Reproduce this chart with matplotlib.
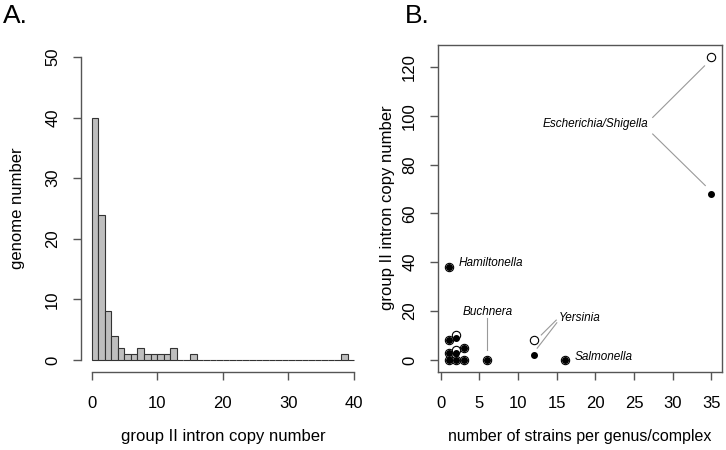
import numpy as np
import matplotlib.pyplot as plt

plt.rcParams['font.family'] = ['Liberation Sans', 'DejaVu Sans']

# panel A: histogram, bins of width 1 starting at 0
bin_left = list(range(40))
genome_counts = [40, 24, 8, 4, 2, 1, 1, 2, 1, 1,
                 1, 1, 2, 0, 0, 1, 0, 0, 0, 0,
                 0, 0, 0, 0, 0, 0, 0, 0, 0, 0,
                 0, 0, 0, 0, 0, 0, 0, 0, 1, 0]

# panel B: copy number range per genus
strains = [1, 1, 1, 1, 2, 2, 2, 3, 3, 6, 12, 16, 35]
copy_max = [0, 3, 8, 38, 0, 4, 10, 0, 5, 0, 8, 0, 124]
copy_min = [0, 3, 8, 38, 0, 3, 9, 0, 5, 0, 2, 0, 68]

W, H = 726, 450
fig = plt.figure(figsize=(W / 100, H / 100), dpi=100)

def px(x0, y0, x1, y1):
    # pixel box -> figure fraction rect
    return [x0 / W, 1 - y1 / H, (x1 - x0) / W, (y1 - y0) / H]

axis_col = '#555555'

# ---- A ----
ax1 = fig.add_axes(px(81, 45, 364.6, 372))
ax1.bar(bin_left, genome_counts, width=1, align='edge',
        color='#bebebe', edgecolor='#333333', linewidth=0.8)
ax1.set_xlim(-1.6, 41.6)
ax1.set_ylim(-2, 52)
for s in ['top', 'right']:
    ax1.spines[s].set_visible(False)
ax1.spines['left'].set_bounds(0, 50)
ax1.spines['bottom'].set_bounds(0, 40)
ax1.set_xticks(np.arange(0, 41, 10))
ax1.set_yticks(np.arange(0, 51, 10))

# ---- B ----
ax2 = fig.add_axes(px(438, 45, 722, 372))
ax2.plot(strains, copy_max, 'o', mfc='white', mec='black', ms=6, mew=0.8, ls='none')
ax2.plot(strains, copy_min, 'o', color='black', ms=4, ls='none')
ax2.set_xlim(-0.36, 36.36)
ax2.set_ylim(-4.96, 128.96)
ax2.set_xticks(np.arange(0, 36, 5))
ax2.set_yticks(np.arange(0, 121, 20))

for ax in (ax1, ax2):
    for s in ax.spines.values():
        s.set_color(axis_col)
        s.set_linewidth(1)
    ax.tick_params(length=6, width=1, color=axis_col, labelsize=12)
    ax.tick_params(axis='x', pad=11)
    ax.tick_params(axis='y', pad=9)
    for lab in ax.get_yticklabels():
        lab.set_rotation(90)
        lab.set_va('center')

# annotations
line_kw = dict(color='#999999', lw=0.8)
it = dict(style='italic', fontsize=8.5)
ax2.text(26.8, 96.7, 'Escherichia/Shigella', ha='right', va='center', **it)
ax2.plot([27.4, 34.1], [99.3, 120.4], **line_kw)
ax2.plot([27.4, 34.2], [92.5, 71.4], **line_kw)
ax2.text(2.3, 39.5, 'Hamiltonella', ha='left', va='center', **it)
ax2.text(6.08, 19.7, 'Buchnera', ha='center', va='center', **it)
ax2.plot([6.0, 6.0], [17.0, 4.1], **line_kw)
ax2.text(15.27, 17.3, 'Yersinia', ha='left', va='center', **it)
ax2.plot([14.93, 12.99], [16.3, 10.2], **line_kw)
ax2.plot([15.0, 12.47], [15.2, 4.8], **line_kw)
ax2.text(17.3, 1.35, 'Salmonella', ha='left', va='center', **it)

# axis titles and panel letters
fig.text(223 / W, 1 - 437 / H, 'group II intron copy number', ha='center', va='center', fontsize=12)
fig.text(18 / W, 1 - 208 / H, 'genome number', ha='center', va='center', rotation=90, fontsize=12)
fig.text(580 / W, 1 - 437 / H, 'number of strains per genus/complex', ha='center', va='center', fontsize=11.5)
fig.text(388 / W, 1 - 208 / H, 'group II intron copy number', ha='center', va='center', rotation=90, fontsize=12)
fig.text(3 / W, 1 - 4 / H, 'A.', ha='left', va='top', fontsize=19)
fig.text(405 / W, 1 - 4 / H, 'B.', ha='left', va='top', fontsize=19)

fig.savefig('out.png', dpi=100)
